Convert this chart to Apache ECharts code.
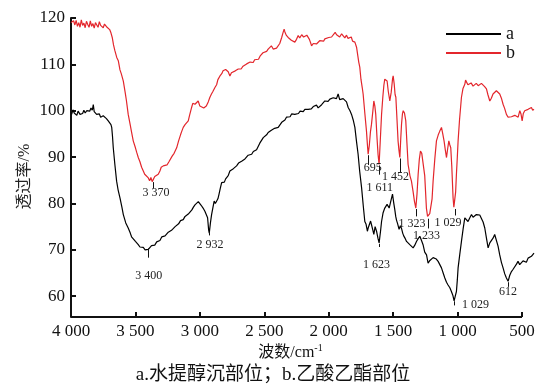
<!DOCTYPE html>
<html lang="zh">
<head>
<meta charset="UTF-8">
<title>红外光谱</title>
<script src="https://cdn.jsdelivr.net/npm/echarts@6/dist/echarts.min.js"></script>
<style>
  html, body { margin: 0; padding: 0; background: #fff; }
  #main { width: 546px; height: 388px; }
</style>
</head>
<body>
<div id="main"></div>
<script>
// 曲线 a：水提醇沉部位（波数 / 透过率）
var waveA = [3995,3985,3975,3965,3955,3945,3930,3920,3910,3900,3890,3878,3865,3855,3845,3835,3827,3820,3810,3801,
  3790,3780,3770,3762,3750,3736,3725,3711,3700,3690,3684,3678,3672,3660,3646,3635,3620,3605,3594,3575,
  3556,3540,3530,3517,3500,3490,3478,3465,3452,3439,3425,3412,3400,3390,3375,3362,3350,3335,3323,3310,
  3295,3284,3270,3255,3245,3232,3220,3205,3192,3180,3165,3150,3140,3129,3115,3100,3090,3077,3062,3050,
  3038,3025,3012,3000,2990,2975,2961,2950,2940,2932,2927,2918,2909,2898,2889,2880,2870,2860,2852,2842,
  2831,2820,2810,2800,2792,2780,2767,2755,2740,2728,2715,2700,2690,2676,2662,2650,2637,2625,2612,2598,
  2585,2573,2560,2547,2535,2520,2508,2495,2482,2470,2458,2445,2431,2420,2405,2392,2380,2365,2353,2340,
  2328,2315,2300,2288,2275,2263,2250,2235,2222,2211,2198,2185,2172,2160,2148,2135,2120,2108,2095,2082,
  2069,2055,2042,2030,2018,2005,1991,1978,1965,1953,1940,1927,1915,1901,1888,1875,1862,1849,1835,1823,
  1810,1797,1785,1772,1760,1745,1732,1720,1710,1700,1694,1685,1675,1668,1658,1650,1640,1629,1618,1609,
  1598,1590,1578,1565,1555,1547,1538,1531,1520,1505,1495,1487,1480,1474,1465,1454,1444,1435,1426,1418,
  1406,1396,1384,1371,1358,1345,1332,1319,1306,1293,1280,1268,1255,1241,1229,1215,1203,1190,1177,1165,
  1151,1138,1125,1112,1099,1086,1074,1060,1048,1037,1027,1018,1009,1002,996,983,970,957,944,932,
  919,905,892,880,867,854,841,828,815,802,789,776,763,750,737,725,712,699,686,673,
  660,647,634,621,608,595,582,569,556,543,531,518,505,492,479,466,453,440,427,417,407];
var transA = [99.2,100.2,99.5,99.7,99.0,99.9,99.2,99.6,99.4,100.1,99.5,100.0,100.4,99.9,100.6,100.1,101.3,99.8,99.6,99.2,
  98.9,99.3,98.6,98.5,98.9,98.9,98.3,97.8,97.5,97.0,96.4,94.5,92.0,88.5,84.8,83.0,81.2,79.2,77.6,75.8,
  74.7,73.6,72.8,72.6,71.8,71.4,71.1,70.6,70.8,70.5,70.0,70.3,70.1,70.4,70.9,71.1,71.0,71.7,71.8,72.0,
  72.8,72.6,73.0,73.2,73.8,73.6,74.2,74.5,75.0,75.1,75.6,76.3,76.0,76.5,77.2,77.5,77.7,78.0,78.6,79.2,
  79.7,79.8,80.4,80.0,79.6,79.0,78.3,77.9,76.9,74.3,73.6,75.8,77.6,79.2,80.5,80.0,79.8,81.0,81.9,83.2,
  84.5,84.8,84.6,85.3,85.2,86.0,87.0,86.8,87.5,87.7,88.1,88.7,88.5,89.1,89.2,89.6,89.9,90.4,90.1,90.6,
  91.2,91.3,91.6,92.0,93.0,93.4,94.2,94.0,94.8,95.3,95.0,95.8,96.0,96.2,96.0,96.4,96.8,97.5,97.8,98.0,
  98.6,98.9,98.7,99.3,99.0,99.2,99.5,99.4,99.9,100.0,99.8,100.3,100.1,100.3,100.6,100.4,100.9,101.0,101.2,100.6,
  100.7,101.3,101.6,102.1,101.8,102.0,102.5,102.3,102.8,102.9,102.6,103.6,102.4,102.1,102.6,102.9,101.9,100.7,100.0,99.2,
  98.0,96.4,93.5,90.6,87.0,83.4,79.5,76.1,75.5,74.0,74.7,75.0,76.2,75.4,74.3,73.3,75.0,74.0,72.5,71.5,
  74.0,76.1,78.0,79.0,78.6,79.8,80.2,79.0,80.3,82.0,80.0,78.6,77.2,76.4,75.6,74.4,75.2,74.6,73.6,73.0,
  72.4,71.8,71.5,71.1,70.9,70.4,71.0,71.8,72.4,72.9,72.0,71.1,69.5,68.9,67.1,67.7,67.9,68.3,68.6,68.0,
  67.5,66.8,66.1,65.0,63.9,63.0,62.4,61.8,61.0,60.2,59.0,60.0,61.0,63.5,66.1,69.0,71.8,74.5,76.9,76.8,
  76.1,76.9,77.6,77.0,77.2,77.6,78.0,77.5,77.2,76.0,74.7,72.5,70.4,71.5,71.8,72.5,73.3,72.9,70.8,68.9,
  67.3,66.1,64.8,63.9,63.2,64.5,65.3,65.8,66.1,66.9,67.5,66.8,67.1,67.6,67.9,67.3,68.2,68.0,68.6,68.2,69.3];

// 曲线 b：乙酸乙酯部位
var waveB = [4000,3990,3980,3970,3960,3950,3940,3930,3920,3910,3900,3890,3880,3870,3860,3850,3840,3830,3820,3810,
  3800,3790,3780,3770,3760,3750,3740,3730,3720,3710,3700,3690,3680,3670,3660,3645,3633,3620,3610,3594,
  3580,3570,3556,3540,3530,3517,3500,3490,3478,3465,3452,3439,3428,3415,3400,3390,3380,3370,3362,3350,
  3340,3323,3310,3300,3284,3270,3255,3240,3232,3215,3200,3180,3165,3150,3140,3129,3115,3100,3090,3080,
  3064,3055,3045,3038,3025,3013,3000,2985,2970,2961,2950,2935,2922,2910,2900,2883,2870,2860,2844,2830,
  2820,2810,2800,2792,2780,2767,2755,2740,2725,2715,2702,2690,2680,2665,2650,2637,2625,2610,2600,2586,
  2575,2560,2545,2530,2521,2510,2495,2482,2470,2457,2445,2431,2420,2405,2392,2380,2365,2355,2346,2340,
  2330,2315,2305,2290,2275,2263,2250,2237,2225,2210,2195,2180,2170,2160,2150,2140,2133,2120,2105,2095,
  2082,2070,2055,2040,2030,2015,2000,1990,1978,1965,1950,1939,1928,1915,1900,1888,1875,1862,1850,1836,
  1825,1815,1805,1797,1784,1775,1767,1759,1750,1740,1733,1720,1707,1700,1694,1685,1676,1668,1658,1650,
  1642,1635,1625,1617,1609,1600,1590,1580,1572,1565,1556,1547,1538,1526,1515,1505,1500,1492,1485,1479,
  1470,1462,1455,1448,1441,1435,1428,1422,1412,1402,1393,1384,1375,1370,1358,1345,1335,1324,1315,1306,
  1297,1288,1278,1268,1255,1242,1233,1224,1216,1208,1198,1190,1177,1164,1150,1138,1125,1115,1105,1095,
  1086,1077,1068,1060,1053,1045,1035,1029,1022,1015,1009,1002,996,985,970,958,944,938,931,920,
  906,895,880,867,855,840,828,815,802,790,776,765,750,738,725,712,699,686,673,660,
  647,635,621,608,595,582,569,556,543,530,517,508,499,490,479,466,453,440,427,417,407];
var transB = [119.0,118.6,119.4,118.5,119.5,118.2,119.0,118.0,119.6,118.4,118.9,117.9,119.3,118.6,118.0,119.4,118.2,118.8,117.8,119.0,
  118.5,118.0,119.2,118.4,118.6,117.9,118.7,118.3,118.0,118.3,117.5,116.8,115.8,114.2,113.0,111.5,110.8,108.8,108.0,106.4,
  104.0,102.2,99.2,96.9,95.4,93.5,92.0,91.0,89.9,89.0,87.8,87.0,86.3,86.0,85.5,84.9,85.6,84.7,84.9,85.8,
  85.4,86.3,87.0,87.8,88.1,88.5,88.3,89.0,89.1,90.2,90.8,92.0,93.5,94.8,95.6,96.4,97.0,97.2,97.8,99.0,
  100.7,101.6,102.0,101.4,101.8,102.1,101.0,101.2,100.6,100.7,101.0,101.9,102.9,103.6,104.1,105.0,105.6,106.7,107.5,108.0,
  108.6,108.2,108.9,109.0,108.4,107.5,108.2,107.9,108.6,108.3,109.0,109.4,109.0,109.6,109.7,110.1,110.0,110.5,110.2,110.4,
  111.0,111.3,111.1,111.9,112.2,112.5,112.3,112.8,113.3,113.7,114.0,113.3,113.6,113.5,113.7,114.5,115.8,116.8,117.6,117.0,
  116.3,115.8,116.2,115.2,114.9,114.8,115.4,116.2,115.7,116.4,115.9,116.1,116.3,116.2,115.4,114.6,114.0,114.5,114.9,114.4,
  114.8,115.1,115.3,115.0,115.5,115.1,115.8,115.6,115.9,116.3,116.9,116.4,116.8,115.9,116.6,116.2,115.7,116.3,115.6,115.5,
  115.9,115.0,115.3,114.8,113.7,112.0,110.5,109.4,106.8,105.0,103.6,99.5,95.6,92.8,90.6,92.5,95.5,97.1,99.8,102.1,
  101.0,99.2,94.0,90.5,88.4,93.5,99.2,103.0,105.5,106.8,106.6,106.4,104.2,102.1,104.0,106.8,107.5,105.8,103.5,102.9,
  98.0,93.5,91.5,89.9,94.0,97.1,99.3,100.0,99.5,97.8,93.0,88.4,86.9,86.0,84.8,82.5,80.5,79.0,82.0,86.3,
  89.5,91.3,90.8,90.6,86.0,79.0,77.2,76.9,77.8,77.6,81.0,84.8,89.5,93.5,94.8,95.6,96.4,95.0,93.5,91.5,
  89.9,91.8,93.5,92.6,92.0,88.0,81.2,79.2,79.0,82.5,86.3,90.0,93.5,98.0,102.9,104.8,105.7,106.6,106.4,105.6,
  105.4,106.0,105.3,105.4,105.9,105.4,105.7,105.9,106.1,105.2,104.7,103.5,102.1,102.7,103.6,104.0,104.3,103.9,103.6,102.7,
  101.4,100.5,99.2,98.6,98.2,98.7,98.5,99.0,99.2,98.6,100.0,99.3,97.8,99.4,100.0,99.6,100.3,100.0,100.7,100.1,100.3];

var xTicks = [4000, 3500, 3000, 2500, 2000, 1500, 1000, 500];

// 峰标注：文字, 竖线位置(波数), 竖线上端, 竖线下端, 文字中心(波数), 文字中心(透过率)
var peaksA = [
  ['3 400', 3397, 70.3, 68.3, 3397, 64.4],
  ['2 932', 2930, 73.9, 73.1, 2922, 71.1],
  ['1 623', 1609, 71.3, 70.6, 1629, 66.8],
  ['1 029', 1025, 58.9, 58.0, 861, 58.1],
  ['612', 608, 63.0, 62.0, 608, 60.9]
];
var peaksB = [
  ['3 370', 3365, 84.6, 83.2, 3341, 82.3],
  ['695', 1694, 90.4, 88.3, 1658, 87.6],
  ['1 611', 1609, 88.2, 86.2, 1604, 83.4],
  ['1 452', 1448, 89.7, 86.7, 1482, 85.8],
  ['1 323', 1324, 78.8, 77.2, 1353, 75.6],
  ['1 233', 1224, 76.7, 74.6, 1241, 73.0],
  ['1 029', 1022, 78.8, 77.4, 1074, 75.8]
];

var yMin = 55.5;

function zip(xs, ys) {
  return xs.map(function (x, i) { return [x, ys[i]]; });
}

function tickLines(peaks) {
  return peaks.map(function (p) {
    return [{ coord: [p[1], p[2]] }, { coord: [p[1], p[3]] }];
  });
}

function peakLabels(peaks) {
  return peaks.map(function (p) {
    return { name: p[0], coord: [p[4], p[5]] };
  });
}

function thousands(v) {
  if (v >= 1000) {
    var r = String(v % 1000);
    while (r.length < 3) r = '0' + r;
    return Math.floor(v / 1000) + ' ' + r;
  }
  return String(v);
}

var serif = 'Liberation Serif, "Noto Sans CJK SC", serif';

function makeSeries(name, color, wave, trans, peaks, extraLines) {
  return {
    name: name,
    type: 'line',
    data: zip(wave, trans),
    symbol: 'none',
    animation: false,
    lineStyle: { color: color, width: 1.2 },
    itemStyle: { color: color },
    markLine: {
      silent: true,
      symbol: ['none', 'none'],
      label: { show: false },
      lineStyle: { color: '#111', width: 1, type: 'solid' },
      data: tickLines(peaks).concat(extraLines || [])
    },
    markPoint: {
      silent: true,
      symbol: 'circle',
      symbolSize: 0,
      label: {
        show: true,
        position: 'inside',
        formatter: function (p) { return p.name; },
        color: '#222',
        fontFamily: serif,
        fontSize: 12
      },
      data: peakLabels(peaks)
    }
  };
}

// 横轴线只画到 500
var baseLine = [[
  { coord: [xTicks[0], yMin], lineStyle: { width: 2, color: '#111' } },
  { coord: [xTicks[xTicks.length - 1], yMin] }
]];

var myChart = echarts.init(document.getElementById('main'));

var option = {
  backgroundColor: '#fff',
  animation: false,
  title: {
    text: 'a.水提醇沉部位；b.乙酸乙酯部位',
    left: 'center',
    top: 366,
    padding: 0,
    textStyle: { fontFamily: serif, fontSize: 19, fontWeight: 'normal', color: '#111' }
  },
  legend: {
    orient: 'vertical',
    right: 26,
    top: 20,
    itemWidth: 55,
    itemHeight: 14,
    itemGap: 1,
    itemStyle: { opacity: 0 },
    lineStyle: { width: 2 },
    textStyle: { fontFamily: serif, fontSize: 18, color: '#111' },
    data: ['a', 'b']
  },
  grid: { left: 71, right: 12, top: 18, bottom: 71 },
  xAxis: {
    type: 'value',
    inverse: true,
    min: 407,
    max: 4000,
    name: '波数/cm{sup|-1}',
    nameLocation: 'middle',
    nameGap: 26,
    nameMoveOverlap: false,
    nameTextStyle: {
      fontFamily: serif,
      fontSize: 16,
      color: '#111',
      padding: [0, 24, 0, 0],
      rich: { sup: { fontFamily: serif, fontSize: 10, padding: [0, 0, 9, 0], color: '#111' } }
    },
    axisLine: { show: false },
    axisTick: { show: true, inside: true, length: 5, customValues: xTicks, lineStyle: { color: '#111', width: 2 } },
    axisLabel: {
      margin: 6,
      fontFamily: serif,
      fontSize: 17,
      color: '#111',
      customValues: xTicks,
      formatter: thousands
    },
    splitLine: { show: false }
  },
  yAxis: {
    type: 'value',
    min: yMin,
    max: 120,
    name: '透过率/%',
    nameLocation: 'middle',
    nameGap: 38,
    nameMoveOverlap: false,
    nameTextStyle: { fontFamily: serif, fontSize: 16, color: '#222', padding: [0, 18, 0, 0] },
    axisLine: { show: true, lineStyle: { color: '#111', width: 2 } },
    axisTick: { show: true, inside: true, length: 5, lineStyle: { color: '#111', width: 2 } },
    axisLabel: { margin: 6, fontFamily: serif, fontSize: 17, color: '#111', showMinLabel: false },
    splitLine: { show: false }
  },
  series: [
    makeSeries('a', '#000', waveA, transA, peaksA, baseLine),
    makeSeries('b', '#e3262c', waveB, transB, peaksB)
  ]
};

myChart.setOption(option);
</script>
</body>
</html>
